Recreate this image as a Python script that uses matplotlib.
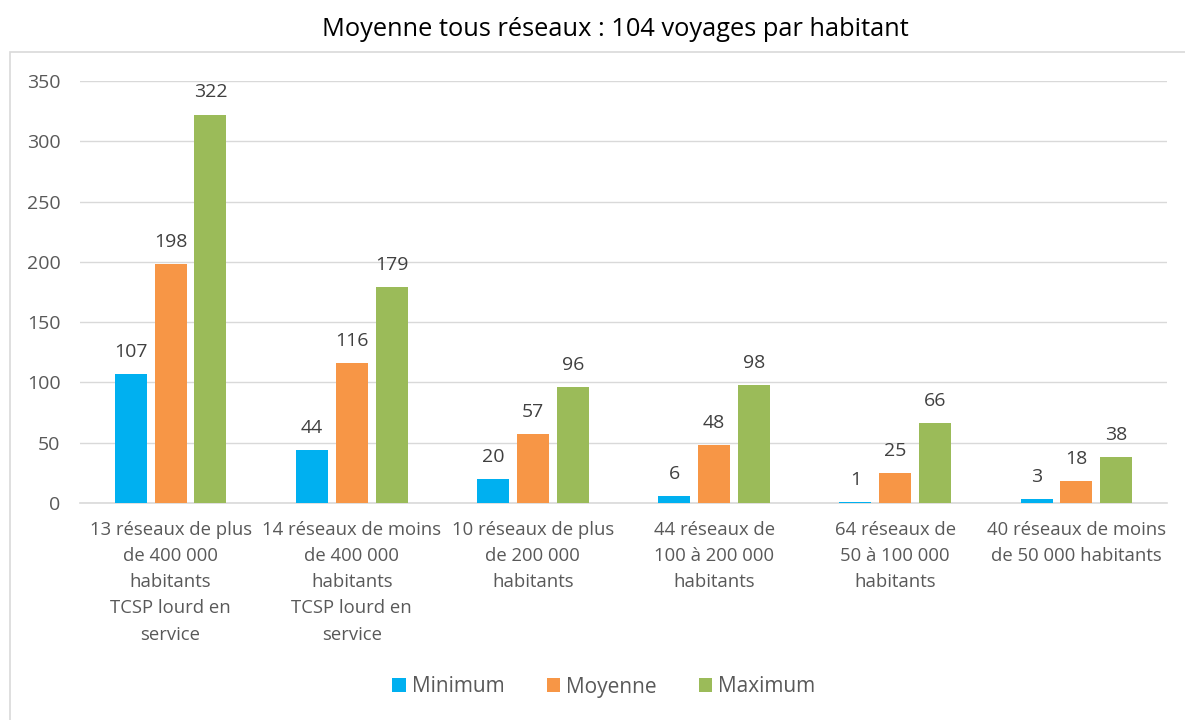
import numpy as np
import matplotlib.pyplot as plt
from matplotlib.patches import Rectangle

plt.rcParams['font.family'] = ['Open Sans', 'DejaVu Sans']

categories = ['13 réseaux de plus\nde 400 000\nhabitants\nTCSP lourd en\nservice',
              '14 réseaux de moins\nde 400 000\nhabitants\nTCSP lourd en\nservice',
              '10 réseaux de plus\nde 200 000\nhabitants',
              '44 réseaux de\n100 à 200 000\nhabitants',
              '64 réseaux de\n50 à 100 000\nhabitants',
              '40 réseaux de moins\nde 50 000 habitants']
minimum = [107, 44, 20, 6, 1, 3]
moyenne = [198, 116, 57, 48, 25, 18]
maximum = [322, 179, 96, 98, 66, 38]
series = ['Minimum', 'Moyenne', 'Maximum']
colors = ['#00b0f0', '#f79646', '#9bbb59']

fig = plt.figure(figsize=(11.85, 7.2), dpi=100)
ax = fig.add_axes([80/1185, 1-503/720, (1167-80)/1185, (503-81)/720])

# chart frame (Excel-like), only left and top visible
fig.patches.append(Rectangle((10/1185, -0.1), 1.2, 0.1 + (720-52)/720,
                             transform=fig.transFigure, fill=False,
                             edgecolor='#d9d9d9', linewidth=1.2))

ind = np.arange(len(categories))
width = 0.176
step = 0.22
bars = []
for i, (vals, col) in enumerate(zip([minimum, moyenne, maximum], colors)):
    b = ax.bar(ind + (i-1)*step, vals, width, color=col, zorder=3, label=series[i])
    bars.append(b)
    for x, v in zip(ind + (i-1)*step, vals):
        ax.text(x, v + 11, str(v), ha='center', va='bottom', fontsize=14, color='#404040')

ax.set_xlim(-0.5, len(categories) - 0.5)
ax.set_ylim(0, 350)
ax.set_yticks(np.arange(0, 351, 50))
ax.yaxis.grid(True, color='#d9d9d9', linewidth=1, zorder=0)
ax.set_axisbelow(True)
for s in ['left', 'right', 'top']:
    ax.spines[s].set_visible(False)
ax.spines['bottom'].set_color('#d9d9d9')
ax.spines['bottom'].set_linewidth(1.2)
ax.tick_params(axis='both', length=0, labelsize=14, colors='#595959')
ax.tick_params(axis='y', pad=14)
ax.tick_params(axis='x', pad=13, labelsize=13.3)
ax.set_xticks(ind)
ax.set_xticklabels(categories, linespacing=1.58)

fig.text(615/1185, 1-29/720, 'Moyenne tous réseaux : 104 voyages par habitant',
         ha='center', va='center', fontsize=18.3, color='black')

leg = fig.legend(handles=bars, labels=series, loc='center',
                 bbox_to_anchor=(604/1185, 1-687/720), ncol=3, frameon=False,
                 fontsize=15, handlelength=0.65, handleheight=0.65,
                 handletextpad=0.3, columnspacing=2.0)
for t in leg.get_texts():
    t.set_color('#595959')

fig.savefig('out.png', dpi=100)
